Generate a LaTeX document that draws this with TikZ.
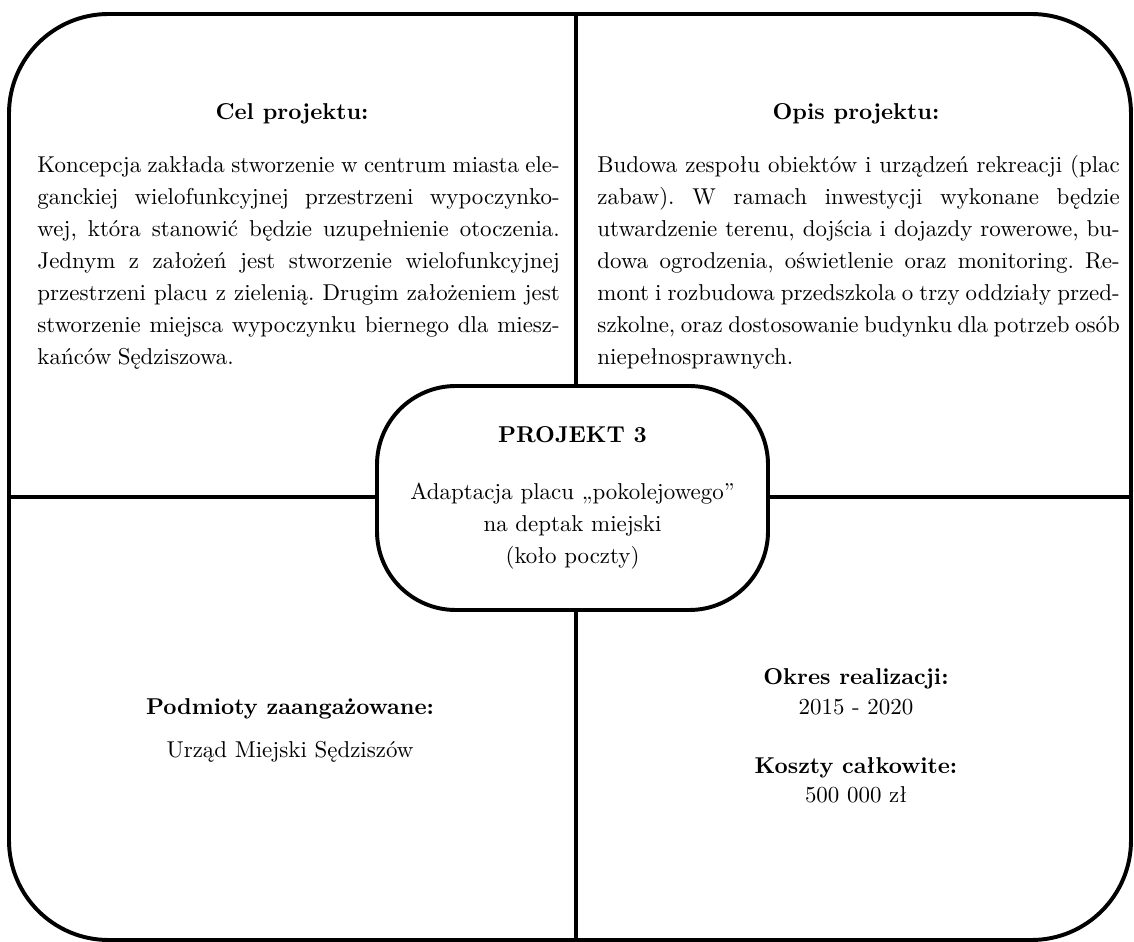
\documentclass[tikz,border=0pt]{standalone}
\usepackage{fontspec}
\usetikzlibrary{positioning}
\tolerance=9999
\hyphenpenalty=10000
\frenchspacing
\newcommand{\pismo}{\fontsize{9.9pt}{13.8pt}\selectfont}
\newcommand{\odstepy}{\frenchspacing\spaceskip=0.28em plus 0.8em minus 0.08em\relax}
\tikzset{
	ramka/.style = {line width=1.7pt},
	linia/.style = {line width=1.5pt},
	naglowek/.style = {font=\pismo\bfseries, inner sep=0pt, anchor=base},
	tekst/.style = {font=\pismo, inner sep=0pt, anchor=base},
	akapit/.style = {font=\pismo\odstepy, text width=225.5pt, align=justify, inner sep=0pt, anchor=base west}
}

\begin{document}
\begin{tikzpicture}[x=0.4317pt, y=-0.4317pt]
		\useasboundingbox (0,0) rectangle (1134,942);
		\draw[ramka, rounded corners=43pt] (9,14) rectangle (1131,940);
		% srodek
		\node[ramka, draw, rounded corners=34pt, minimum width=168.8pt, minimum height=96.7pt, align=center, font=\pismo] (projekt) at (572.5,498)
			{\textbf{PROJEKT 3}\\[11pt] Adaptacja placu „pokolejowego”\\ na deptak miejski\\ (koło poczty)};
		\coordinate (gora) at (576,14);
		\coordinate (dol) at (576,940);
		\coordinate (lewo) at (9,497);
		\coordinate (prawo) at (1131,497);
		\draw[linia] (gora) -- (gora |- projekt.north);
		\draw[linia] (dol) -- (dol |- projekt.south);
		\draw[linia] (lewo) -- (lewo -| projekt.west);
		\draw[linia] (prawo) -- (prawo -| projekt.east);
		% lewa gora
		\node[naglowek] (cel) at (292,120) {Cel projektu:};
		\node[akapit] (celtekst) at (37,173) {Koncepcja zakłada stworzenie w centrum miasta ele-\linebreak ganckiej wielofunkcyjnej przestrzeni wypoczynko-\linebreak wej, która stanowić będzie uzupełnienie otoczenia.\linebreak Jednym z założeń jest stworzenie wielofunkcyjnej\linebreak przestrzeni placu z zielenią. Drugim założeniem jest\linebreak stworzenie miejsca wypoczynku biernego dla miesz-\linebreak kańców Sędziszowa.};
		% prawa gora
		\node[naglowek] (opis) at (856,120) {Opis projektu:};
		\node[akapit] (opistekst) at (597,173) {Budowa zespołu obiektów i urządzeń rekreacji (plac\linebreak zabaw). W ramach inwestycji wykonane będzie\linebreak utwardzenie terenu, dojścia i dojazdy rowerowe, bu-\linebreak dowa ogrodzenia, oświetlenie oraz monitoring. Re-\linebreak mont i rozbudowa przedszkola o trzy oddziały przed-\linebreak szkolne, oraz dostosowanie budynku dla potrzeb osób\linebreak niepełnosprawnych.};
		% lewy dol
		\node[naglowek] (podmioty) at (290,715) {Podmioty zaangażowane:};
		\node[tekst] (urzad) at (290,757) {Urząd Miejski Sędziszów};
		% prawy dol
		\node[naglowek] (okres) at (856,684) {Okres realizacji:};
		\node[tekst] (lata) at (856,715) {2015 - 2020};
		\node[naglowek] (koszty) at (856,773) {Koszty całkowite:};
		\node[tekst] (kwota) at (856,802) {500 000 zł};
	\end{tikzpicture}
\end{document}
